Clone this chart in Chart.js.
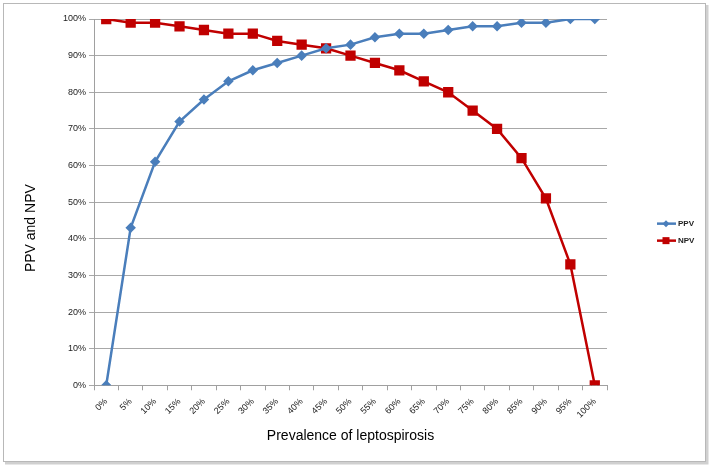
<!DOCTYPE html>
<html><head><meta charset="utf-8">
<script src="https://cdn.jsdelivr.net/npm/chart.js@4"></script>
<style>html,body{margin:0;padding:0;background:#fff}#wrap{width:711px;height:466px}</style>
</head><body><div id="wrap"><canvas id="c" width="711" height="466"></canvas></div>
<script>
const categories = ['0%','5%','10%','15%','20%','25%','30%','35%','40%','45%','50%','55%','60%','65%','70%','75%','80%','85%','90%','95%','100%'];
const ppv = [0,43,61,72,78,83,86,88,90,92,93,95,96,96,97,98,98,99,99,100,100];
const npv = [100,99,99,98,97,96,96,94,93,92,90,88,86,83,80,75,70,62,51,33,0];
const yTicks = [0,10,20,30,40,50,60,70,80,90,100];
const seriesNames = ['PPV','NPV'];
const xTitle = 'Prevalence of leptospirosis';
const yTitle = 'PPV and NPV';

const BLUE = '#4a7ebb', RED = '#c00000';
const FONT = 'Arial, "Liberation Sans", sans-serif';

const framePlugin = {
  id:'frame',
  beforeDraw(chart){
    const ctx = chart.ctx;
    ctx.save();
    ctx.fillStyle = '#fff'; ctx.fillRect(0,0,chart.width,chart.height);
    ctx.strokeStyle = '#d0d0d0'; ctx.lineWidth = 3;
    ctx.beginPath(); ctx.moveTo(707,5); ctx.lineTo(707,463); ctx.lineTo(5,463); ctx.stroke();
    ctx.strokeStyle = '#b8b8b8'; ctx.lineWidth = 1;
    ctx.strokeRect(3.5,3.5,702,458);
    ctx.restore();
  }
};

const yTitlePlugin = {
  id:'yTitle',
  afterDraw(chart){
    const ctx = chart.ctx;
    const ca = chart.chartArea;
    ctx.save();
    ctx.translate(ca.left - 63, (ca.top + ca.bottom) / 2 + 26);
    ctx.rotate(-Math.PI / 2);
    ctx.font = '14px ' + FONT;
    ctx.fillStyle = '#000';
    ctx.textAlign = 'center';
    ctx.textBaseline = 'middle';
    ctx.fillText(yTitle, 0, 0);
    ctx.restore();
  }
};

const legendPlugin = {
  id:'sideLegend',
  afterDraw(chart){
    const ctx = chart.ctx;
    const ca = chart.chartArea;
    const x0 = ca.right + 50;
    const yMid = (ca.top + ca.bottom) / 2 + 30;
    ctx.save();
    chart.data.datasets.forEach((ds, i) => {
      const y = yMid - 8.5 + i * 17;
      ctx.strokeStyle = ds.borderColor; ctx.lineWidth = 2.5;
      ctx.beginPath(); ctx.moveTo(x0, y); ctx.lineTo(x0 + 19, y); ctx.stroke();
      ctx.fillStyle = ds.borderColor;
      const cx = x0 + 9;
      if (i === 0) {
        ctx.beginPath(); ctx.moveTo(cx, y-3.5); ctx.lineTo(cx+3.5, y); ctx.lineTo(cx, y+3.5); ctx.lineTo(cx-3.5, y); ctx.closePath(); ctx.fill();
      } else {
        ctx.fillRect(cx-3.5, y-3.5, 7, 7);
      }
      ctx.fillStyle = '#222';
      ctx.font = 'bold 8px ' + FONT;
      ctx.textBaseline = 'middle';
      ctx.fillText(ds.label, x0 + 21, y + 0.5);
    });
    ctx.restore();
  }
};

new Chart(document.getElementById('c'), {
  type:'line',
  data:{
    labels: categories,
    datasets:[
      {label:seriesNames[0], data:ppv, borderColor:BLUE, backgroundColor:BLUE, borderWidth:2.5,
       pointStyle:'rectRot', pointRadius:3.5, pointHoverRadius:3.5, tension:0},
      {label:seriesNames[1], data:npv, borderColor:RED, backgroundColor:RED, borderWidth:2.5,
       pointStyle:'rect', pointRadius:5.5, pointHoverRadius:5.5, tension:0}
    ]
  },
  plugins:[framePlugin, yTitlePlugin, legendPlugin],
  options:{
    responsive:false, animation:false,
    layout:{padding:{left:60,right:104,top:19,bottom:17}},
    plugins:{
      tooltip:{enabled:false},
      legend:{display:false}
    },
    scales:{
      x:{
        offset:true,
        grid:{display:true, drawOnChartArea:false, offset:true, tickLength:5, color:'#a0a0a0'},
        border:{color:'#a0a0a0'},
        ticks:{maxRotation:45, minRotation:45, autoSkip:false, font:{family:FONT, size:9}, color:'#222', padding:6},
        title:{display:true, text:xTitle, font:{family:FONT, size:14}, color:'#000', padding:{top:2}}
      },
      y:{
        min:0, max:100,
        afterBuildTicks(axis){ axis.ticks = yTicks.map(v=>({value:v})); },
        grid:{color:'#a8a8a8', tickLength:5},
        border:{color:'#a0a0a0'},
        ticks:{callback:v=>v+'%', font:{family:FONT, size:9}, color:'#222', padding:3}
      }
    }
  }
});
</script></body></html>
